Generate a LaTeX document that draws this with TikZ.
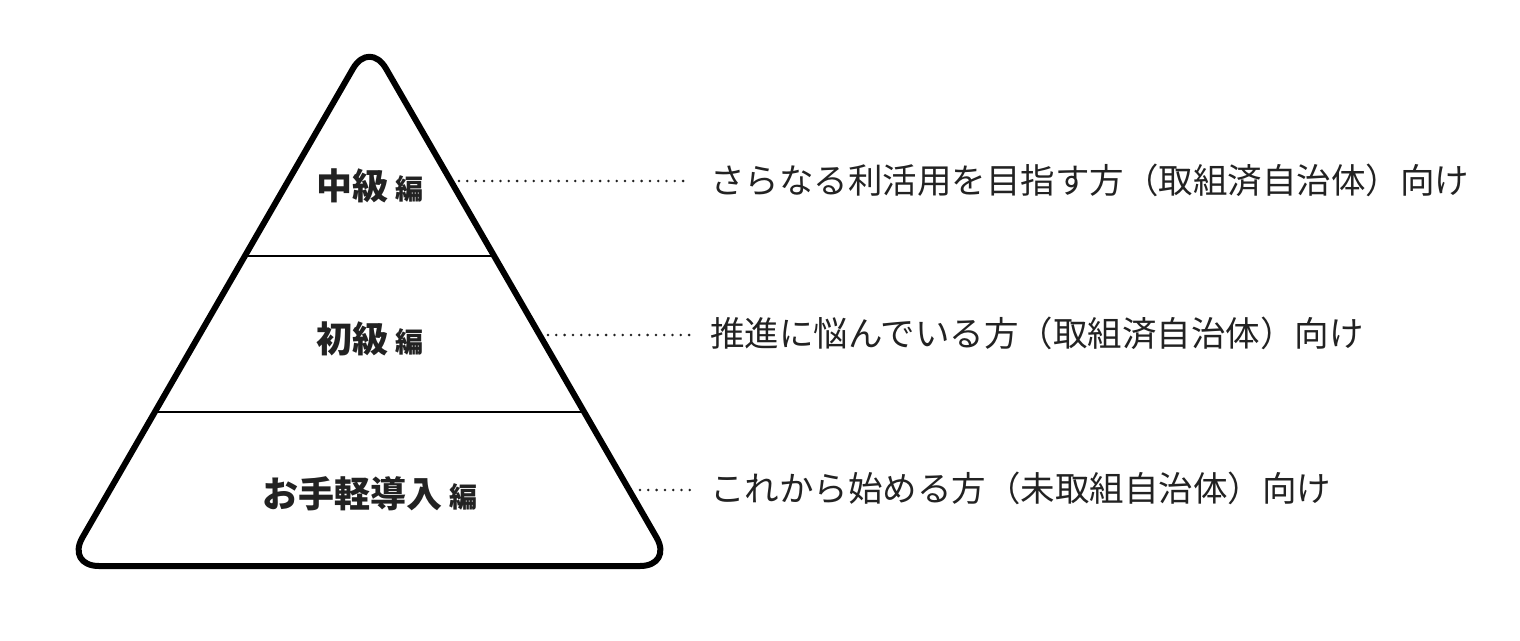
\documentclass[tikz,border=0pt]{standalone}
\usepackage{fontspec}
\newfontfamily\jp{Noto Sans CJK JP}
\usetikzlibrary{calc}
\definecolor{ink}{HTML}{222222}
\tikzset{
  level/.style={font=\jp\bfseries\fontsize{36}{40}\selectfont, text=ink, inner sep=0pt, anchor=center},
  target/.style={font=\jp\fontsize{34.5}{38}\selectfont, text=ink, inner sep=0pt, anchor=west, text height=0.88em, text depth=0.12em},
  leader/.style={line width=2.8pt, dash pattern=on 0pt off 8.3pt, line cap=round, ink},
  divider/.style={line width=2pt, black},
  outline/.style={line width=6pt, black, rounded corners=33pt, line join=round}
}
\newcommand{\hen}{\hspace{0.2em}{\fontsize{28}{30}\selectfont 編}}
\begin{document}
\begin{tikzpicture}[x=1pt,y=-1pt]
\useasboundingbox (0,0) rectangle (1520,640);
\coordinate (A) at (369.5,40);
\coordinate (L) at (66,566);
\coordinate (R) at (673,566);
\coordinate (M) at (369.5,566);
\draw[outline] (M) -- (R) -- (A) -- (L) -- cycle;
\draw[divider] ($(A)!0.4106!(L)$) coordinate (d1l) -- ($(A)!0.4106!(R)$) coordinate (d1r);
\draw[divider] ($(A)!0.7072!(L)$) coordinate (d2l) -- ($(A)!0.7072!(R)$) coordinate (d2r);
\node[level] (l1) at (370,186) {中級\hen};
\node[level] (l2) at (370,339) {初級\hen};
\node[level] (l3) at (370,494) {お手軽導入\hen};
\node[target] (t1) at (710,190) {さらなる利活用を目指す方（取組済自治体）向け};
\node[target] (t2) at (710,343) {推進に悩んでいる方（取組済自治体）向け};
\node[target] (t3) at (710,498) {これから始める方（未取組自治体）向け};
\coordinate (s1) at (459,181);
\coordinate (s2) at (548,335);
\coordinate (s3) at (640,490);
\draw[leader] (s1) -- ($(s1 -| t1.west)+(-25,0)$);
\draw[leader] (s2) -- ($(s2 -| t2.west)+(-20,0)$);
\draw[leader] (s3) -- ($(s3 -| t3.west)+(-19,0)$);
\end{tikzpicture}
\end{document}
